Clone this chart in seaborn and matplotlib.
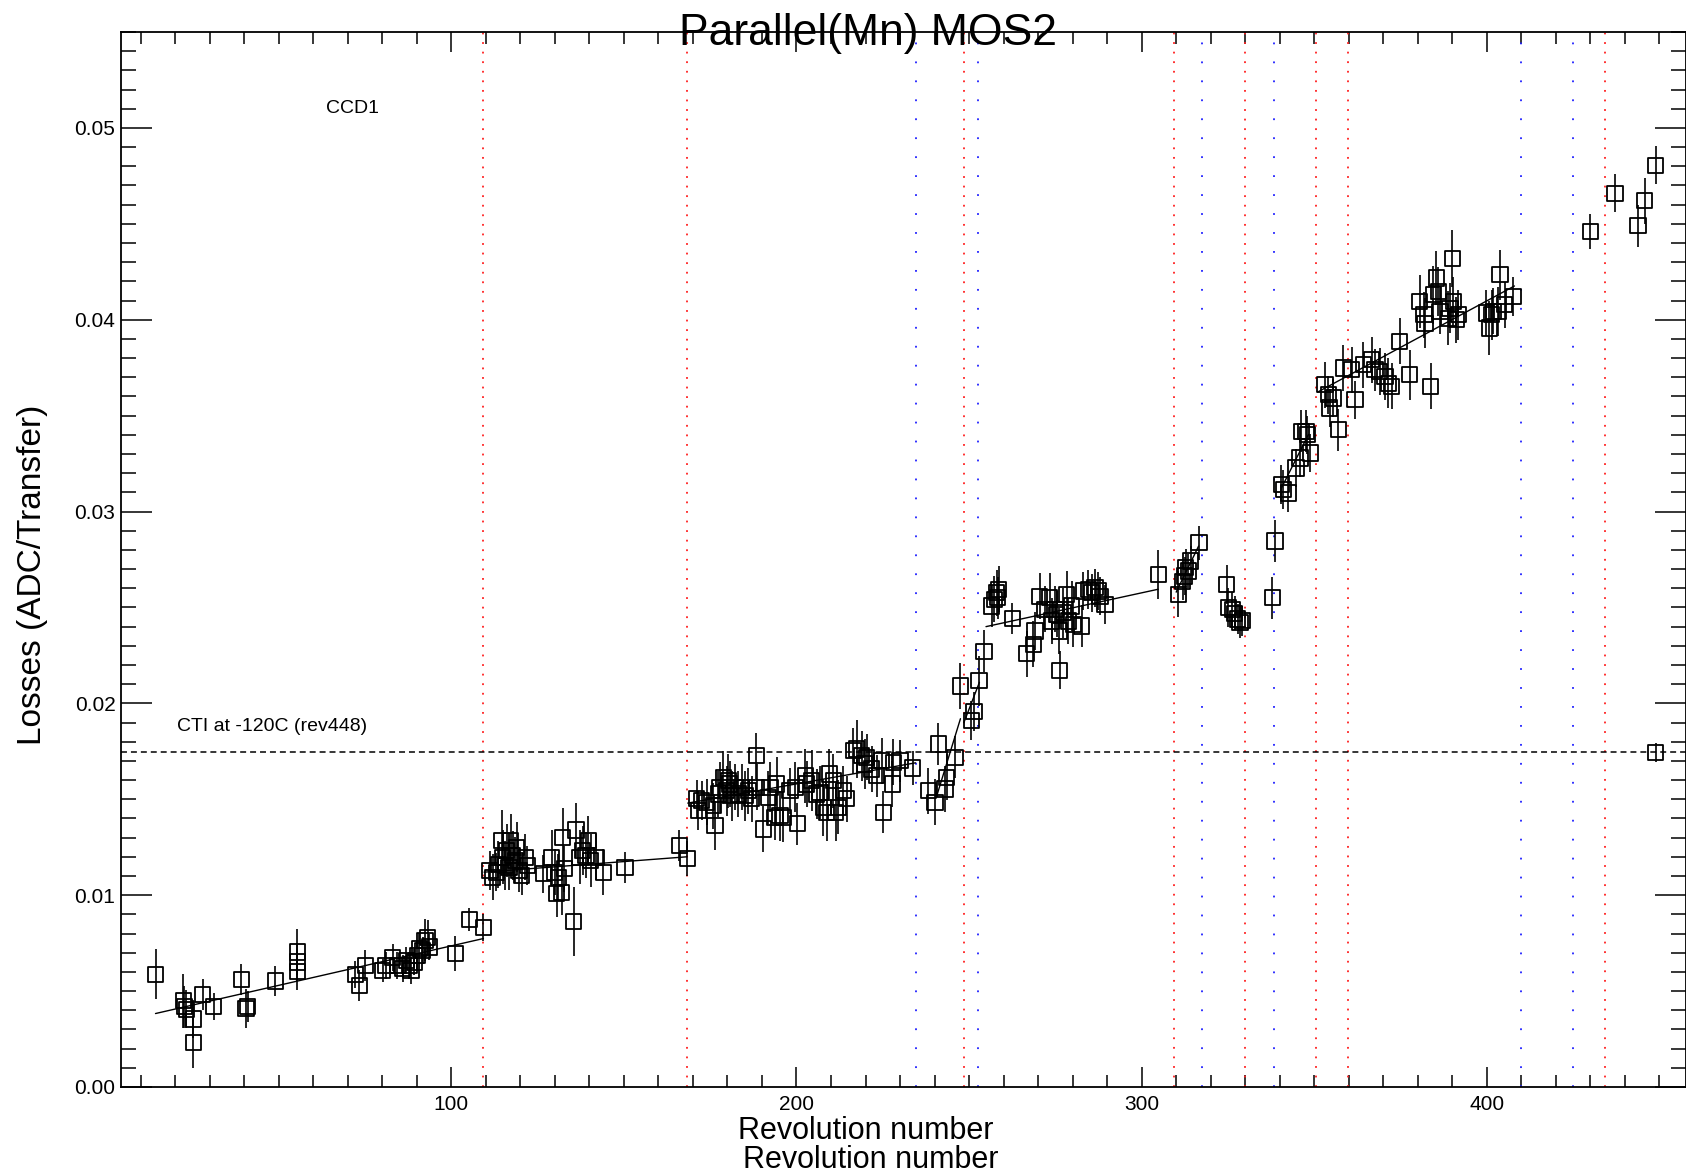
import matplotlib
matplotlib.use("Agg")
import matplotlib.pyplot as plt
from matplotlib.ticker import MultipleLocator, FormatStrFormatter
import seaborn as sns
import pandas as pd

# ---------------- data ----------------
rev_a = [14.3, 22.3, 22.6, 23.2, 25.2, 25.2, 28.0, 31.1, 39.1, 40.5, 41.0, 49.0, 55.4, 55.4, 55.4,
         72.2, 73.3, 75.1, 80.1, 81.1, 83.0, 84.3, 85.9, 86.9, 87.8, 88.3, 89.3, 90.1, 90.7, 91.7,
         92.4, 93.2, 93.6, 101.2, 105.2, 109.3]
loss_a = [0.00588, 0.00449, 0.00418, 0.00406, 0.00354, 0.00230, 0.00484, 0.00418, 0.00560, 0.00410,
          0.00420, 0.00553, 0.00704, 0.00652, 0.00604, 0.00588, 0.00530, 0.00635, 0.00609, 0.00635,
          0.00675, 0.00635, 0.00617, 0.00661, 0.00635, 0.00609, 0.00652, 0.00687, 0.00722, 0.00713,
          0.00765, 0.00779, 0.00730, 0.00696, 0.00872, 0.00831]
err_a = [0.0013, 0.0014, 0.0011, 0.0010, 0.0010, 0.0013, 0.0008, 0.0007, 0.0008, 0.0010, 0.0008, 0.0008,
         0.0012, 0.0010, 0.0010, 0.0007, 0.0008, 0.0008, 0.0006, 0.0007, 0.0007, 0.0007, 0.0007, 0.0007,
         0.0007, 0.0007, 0.0007, 0.0008, 0.0008, 0.0007, 0.0011, 0.0009, 0.0007, 0.0009, 0.0006, 0.0007]

rev_b = [111.2, 112.0, 113.0, 113.6, 114.6, 114.9, 115.6, 116.0, 116.7, 117.2, 117.8, 118.5, 118.9,
         119.6, 120.4, 121.4, 122.0, 126.7, 129.1, 130.0, 131.0, 130.5, 132.0, 132.3, 132.7, 135.4,
         136.1, 137.3, 138.1, 139.0, 139.7, 140.4, 141.9, 144.0, 150.3, 166.1, 168.4]
loss_b = [0.01129, 0.01094, 0.01120, 0.01160, 0.01285, 0.01198, 0.01155, 0.01233, 0.01146, 0.01285,
          0.01207, 0.01181, 0.01250, 0.01129, 0.01103, 0.01198, 0.01155, 0.01112, 0.01198, 0.01120,
          0.01094, 0.01007, 0.01016, 0.01302, 0.01138, 0.00864, 0.01340, 0.01198, 0.01233, 0.01207,
          0.01285, 0.01181, 0.01198, 0.01120, 0.01146, 0.01259, 0.01190]
err_b = [0.0010, 0.0012, 0.0010, 0.0012, 0.0016, 0.0014, 0.0013, 0.0014, 0.0012, 0.0014, 0.0013, 0.0012,
         0.0013, 0.0011, 0.0010, 0.0012, 0.0010, 0.0010, 0.0014, 0.0012, 0.0012, 0.0012, 0.0012, 0.0015,
         0.0012, 0.0018, 0.0014, 0.0014, 0.0013, 0.0012, 0.0013, 0.0014, 0.0012, 0.0012, 0.0008, 0.0008,
         0.0009]

rev_c = [171.1, 171.6, 172.5, 174.0, 175.9, 176.4, 177.4, 177.8, 178.8, 179.8, 180.3, 180.7, 181.2,
         182.2, 183.1, 184.1, 185.1, 186.0, 187.0, 188.3, 188.5, 190.4, 191.8, 192.3, 193.8, 194.3,
         195.2, 196.2, 198.1, 199.6, 200.2, 202.5, 202.9, 204.4, 205.8, 206.8, 207.8, 208.7, 209.5,
         210.7, 211.4, 212.1, 213.6, 214.5, 216.5, 217.4, 218.9, 219.8, 220.3, 221.8, 223.2, 224.7,
         225.2, 227.8, 228.1, 230.0, 233.7]
loss_c = [0.01502, 0.01441, 0.01493, 0.01484, 0.01467, 0.01363, 0.01528, 0.01562, 0.01614, 0.01545,
          0.01597, 0.01580, 0.01519, 0.01562, 0.01528, 0.01562, 0.01519, 0.01545, 0.01502, 0.01727,
          0.01562, 0.01345, 0.01510, 0.01562, 0.01406, 0.01580, 0.01415, 0.01406, 0.01545, 0.01562,
          0.01372, 0.01623, 0.01580, 0.01597, 0.01528, 0.01536, 0.01458, 0.01432, 0.01632, 0.01597,
          0.01432, 0.01458, 0.01545, 0.01502, 0.01753, 0.01762, 0.01727, 0.01684, 0.01719, 0.01658,
          0.01623, 0.01701, 0.01432, 0.01580, 0.01692, 0.01701, 0.01663]
err_c = [0.0010, 0.0010, 0.0010, 0.0012, 0.0012, 0.0013, 0.0012, 0.0013, 0.0014, 0.0013,
         0.0014, 0.0012, 0.0013, 0.0012, 0.0012, 0.0012, 0.0013, 0.0012, 0.0012, 0.0012,
         0.0012, 0.0012, 0.0014, 0.0013, 0.0012, 0.0014, 0.0013, 0.0013, 0.0012, 0.0013,
         0.0011, 0.0014, 0.0012, 0.0016, 0.0013, 0.0014, 0.0015, 0.0015, 0.0013, 0.0014,
         0.0015, 0.0014, 0.0013, 0.0012, 0.0012, 0.0015, 0.0013, 0.0013, 0.0012, 0.0012,
         0.0011, 0.0012, 0.0011, 0.0012, 0.0012, 0.0011, 0.0009]

rev_d = [238.2, 240.1, 241.1, 243.0, 243.5, 245.9, 247.4, 250.7, 251.4, 252.9, 254.3]
loss_d = [0.01545, 0.01484, 0.01788, 0.01553, 0.01614, 0.01719, 0.02091, 0.01910, 0.01958, 0.02118, 0.02271]
err_d = [0.0012, 0.0012, 0.0011, 0.0012, 0.0012, 0.0011, 0.0012, 0.0010, 0.0010, 0.0013, 0.0011]

rev_e = [256.5, 257.3, 258.0, 258.3, 258.6, 262.5, 266.7, 268.6, 269.1, 270.5, 272.0, 273.4, 273.9,
         274.9, 275.4, 276.1, 276.3, 277.3, 278.3, 278.7, 279.7, 280.2, 282.6, 283.1, 284.5, 285.5,
         286.5, 287.4, 287.9, 289.4, 304.8]
loss_e = [0.02508, 0.02542, 0.02577, 0.02551, 0.02594, 0.02443, 0.02259, 0.02307, 0.02377, 0.02559,
          0.02490, 0.02551, 0.02429, 0.02490, 0.02464, 0.02377, 0.02173, 0.02473, 0.02568, 0.02429,
          0.02508, 0.02412, 0.02403, 0.02586, 0.02594, 0.02577, 0.02603, 0.02586, 0.02559, 0.02516,
          0.02672]
err_e = [0.0011, 0.0012, 0.0012, 0.0011, 0.0012, 0.0008, 0.0012, 0.0012, 0.0010, 0.0012,
         0.0012, 0.0013, 0.0012, 0.0012, 0.0012, 0.0012, 0.0010, 0.0013, 0.0012, 0.0012,
         0.0013, 0.0012, 0.0011, 0.0010, 0.0010, 0.0010, 0.0010, 0.0010, 0.0010, 0.0010, 0.0013]

rev_f = [310.6, 311.9, 312.5, 312.8, 313.5, 314.2, 316.6, 324.6, 325.1, 326.3, 327.0, 327.8, 328.5,
         329.2, 337.8, 338.6]
loss_f = [0.02568, 0.02637, 0.02664, 0.02707, 0.02690, 0.02742, 0.02837, 0.02620, 0.02500, 0.02490,
          0.02470, 0.02440, 0.02420, 0.02430, 0.02551, 0.02846]
err_f = [0.0012, 0.0010, 0.0010, 0.0010, 0.0009, 0.0008, 0.0009, 0.0010, 0.0010, 0.0009, 0.0009,
         0.0008, 0.0008, 0.0008, 0.0011, 0.0011]

rev_g = [340.5, 341.0, 342.5, 344.7, 345.9, 346.3, 347.6, 348.0, 348.8, 353.1, 354.1, 354.5, 355.5,
         357.0, 358.4, 360.8, 361.8, 364.2, 366.6, 367.6, 369.0, 370.5, 371.4, 372.4, 374.8, 377.7,
         380.6, 381.8, 382.1, 383.7, 384.5, 385.4, 385.9, 386.4, 388.8, 389.3, 390.0, 390.3, 391.2,
         391.7, 399.9, 400.7, 401.4, 401.9, 403.3, 403.8, 405.2, 407.7]
loss_g = [0.03141, 0.03115, 0.03097, 0.03227, 0.03279, 0.03418, 0.03418, 0.03400, 0.03305, 0.03661,
          0.03609, 0.03540, 0.03592, 0.03427, 0.03748, 0.03739, 0.03583, 0.03765, 0.03791, 0.03739,
          0.03730, 0.03704, 0.03669, 0.03652, 0.03887, 0.03713, 0.04095, 0.04026, 0.03982, 0.03652,
          0.04130, 0.04217, 0.04147, 0.04043, 0.04008, 0.04060, 0.04320, 0.04095, 0.04000, 0.04026,
          0.04035, 0.03957, 0.04026, 0.04043, 0.04043, 0.04234, 0.04078, 0.04121]
err_g = [0.0010, 0.0010, 0.0010, 0.0010, 0.0010, 0.0011, 0.0011, 0.0010, 0.0010, 0.0012,
         0.0010, 0.0010, 0.0010, 0.0011, 0.0012, 0.0012, 0.0010, 0.0012, 0.0012, 0.0011,
         0.0012, 0.0012, 0.0013, 0.0012, 0.0012, 0.0013, 0.0014, 0.0012, 0.0013, 0.0012,
         0.0015, 0.0014, 0.0013, 0.0012, 0.0014, 0.0013, 0.0015, 0.0013, 0.0012, 0.0013,
         0.0012, 0.0014, 0.0013, 0.0012, 0.0013, 0.0013, 0.0012, 0.0010]

rev_h = [430.0, 437.1, 443.8, 445.7, 448.9]
loss_h = [0.04460, 0.04660, 0.04490, 0.04620, 0.04805]
err_h = [0.0009, 0.0010, 0.0011, 0.0012, 0.0010]

# CTI reference at -120C (rev 448)
cti_rev = [448.9]
cti_loss = [0.01745]
cti_err = [0.0005]

# linear fits per interval (start / end)
fit_x0 = [14.3, 109.5, 168.5, 240.5, 248.5, 254.9, 310.0, 340.5, 351.0]
fit_x1 = [109.3, 168.2, 234.5, 247.5, 253.0, 304.8, 316.5, 348.3, 408.0]
fit_y0 = [0.00383, 0.01120, 0.01480, 0.01510, 0.01900, 0.02400, 0.02580, 0.03123, 0.03623]
fit_y1 = [0.00774, 0.01200, 0.01690, 0.01920, 0.02110, 0.02595, 0.02820, 0.03401, 0.04176]

# event markers
red_events = [109.3, 168.4, 248.4, 309.4, 329.8, 350.6, 359.9, 434.1]
blue_events = [234.5, 252.5, 317.5, 338.4, 409.8, 424.9]

x_ticks = [100, 200, 300, 400]

# ---------------- plotting ----------------
sns.set_theme(style="ticks")
plt.rcParams["font.family"] = ["Liberation Sans", "DejaVu Sans"]
plt.rcParams["axes.edgecolor"] = "black"
plt.rcParams["axes.linewidth"] = 1.3
plt.rcParams["text.color"] = "black"
plt.rcParams["axes.labelcolor"] = "black"
plt.rcParams["xtick.color"] = "black"
plt.rcParams["ytick.color"] = "black"

rev = rev_a + rev_b + rev_c + rev_d + rev_e + rev_f + rev_g + rev_h + cti_rev
loss = loss_a + loss_b + loss_c + loss_d + loss_e + loss_f + loss_g + loss_h + cti_loss
err = err_a + err_b + err_c + err_d + err_e + err_f + err_g + err_h + cti_err
df = pd.DataFrame({"rev": rev, "loss": loss, "err": err})

W, H = 1686, 1175
fig = plt.figure(figsize=(W / 100, H / 100), dpi=100)
L, R, T, B = 121, 1686, 32, 1087
ax = fig.add_axes([L / W, 1 - B / H, (R - L) / W, (B - T) / H])
ax.set_facecolor("white")

for xv in red_events:
    ax.axvline(xv, color="#ff2020", lw=1.3, ls=(0, (1, 4.3)), zorder=1)
for xv in blue_events:
    ax.axvline(xv, color="#2020ff", lw=1.3, ls=(0, (1, 9.5)), zorder=1)

ax.axhline(cti_loss[0], color="black", lw=1.1, ls=(0, (3.9, 2.6)), zorder=1)

for x0, x1, y0, y1 in zip(fit_x0, fit_x1, fit_y0, fit_y1):
    ax.plot([x0, x1], [y0, y1], color="black", lw=1.0, zorder=2)

ax.errorbar(df["rev"], df["loss"], yerr=df["err"], fmt="none", ecolor="black",
            elinewidth=1.2, capsize=0, zorder=3)
sns.scatterplot(data=df, x="rev", y="loss", marker="s", s=120, facecolor="none",
                edgecolor="black", linewidth=1.3, ax=ax, zorder=4, legend=False)

ax.set_xlim(4.3, 457.7)
ax.set_ylim(0, 0.055)
ax.set_xticks(x_ticks)
ax.xaxis.set_minor_locator(MultipleLocator(10))
ax.yaxis.set_major_locator(MultipleLocator(0.01))
ax.yaxis.set_minor_locator(MultipleLocator(0.001))
ax.yaxis.set_major_formatter(FormatStrFormatter("%.2f"))

ax.tick_params(axis="x", which="major", direction="in", length=14.4, width=1.1,
               top=True, bottom=True, labelsize=15, pad=6, colors="black")
ax.tick_params(axis="x", which="minor", direction="in", length=8.6, width=1.1,
               top=True, bottom=True)
ax.tick_params(axis="y", which="major", direction="in", length=22, width=1.1,
               left=True, right=True, labelsize=15, pad=4, colors="black")
ax.tick_params(axis="y", which="minor", direction="in", length=11, width=1.1,
               left=True, right=True)
for sp in ax.spines.values():
    sp.set_visible(True)
    sp.set_color("black")

ax.set_xlabel("Revolution number", fontsize=22, va="center", color="black")
ax.xaxis.set_label_coords((866 - L) / (R - L), (B - 1131) / (B - T))
fig.text(871 / W, 1 - 1160 / H, "Revolution number", fontsize=22, ha="center",
         va="center", color="black")

ax.set_ylabel("Losses (ADC/Transfer)", fontsize=24, va="center", color="black")
ax.yaxis.set_label_coords((32 - L) / (R - L), (B - 575) / (B - T))

fig.text(868 / W, 1 - 45 / H, "Parallel(Mn) MOS2", fontsize=32, ha="center",
         va="baseline", zorder=10, color="black")

ax.text(71.4, 0.0510, "CCD1", fontsize=14, ha="center", va="center", color="black")
ax.text(20.5, 0.0188, "CTI at -120C (rev448)", fontsize=14, ha="left", va="center",
        color="black")

fig.savefig("out.png", dpi=100)
